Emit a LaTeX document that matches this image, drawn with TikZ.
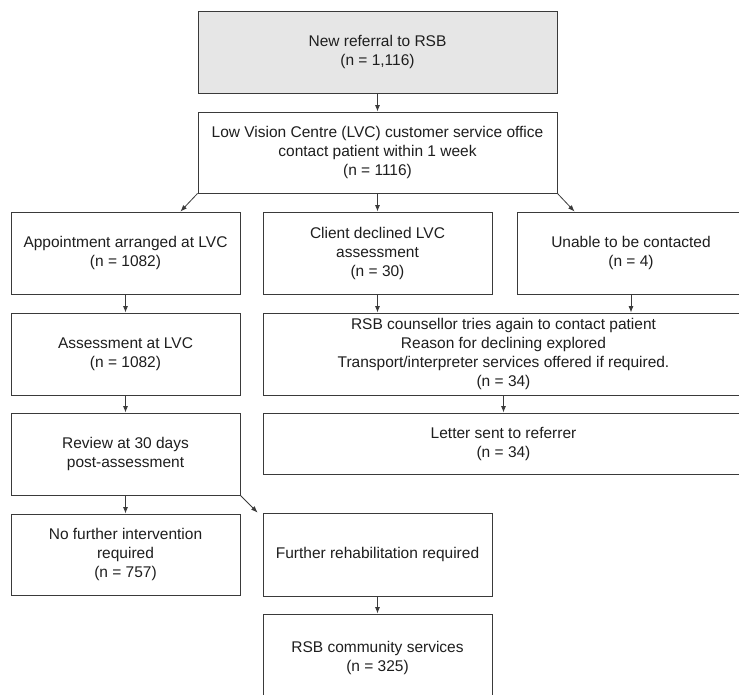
\documentclass[tikz,border=0pt]{standalone}
\usepackage{fontspec}
\setmainfont{Liberation Sans}
\usetikzlibrary{arrows.meta,calc}
\definecolor{edgec}{HTML}{3A3A3A}
\definecolor{textc}{HTML}{1E1E1E}
\definecolor{grayfill}{HTML}{E6E6E6}
\begin{document}
\begin{tikzpicture}[x=1pt,y=1pt,
  box/.style={draw=edgec, line width=0.9pt, fill=white, inner sep=0pt, align=center,
    text=textc, font=\fontsize{15.5}{19}\selectfont},
  arr/.style={draw=edgec, line width=0.8pt, -{Latex[length=6.5pt,width=5pt]}}]
\clip (0,0) rectangle (739,-694);
\fill[white] (0,0) rectangle (739,-694);
% row 1-2
\node[box, fill=grayfill, minimum width=359, minimum height=82] (n1) at (377.5,-52) {New referral to RSB\\(n = 1,116)};
\node[box, minimum width=359, minimum height=81] (n2) at (377.5,-152.5) {Low Vision Centre (LVC) customer service office\\contact patient within 1 week\\(n = 1116)};
% row 3
\node[box, minimum width=229, minimum height=82] (a) at (125.5,-253) {Appointment arranged at LVC\\(n = 1082)};
\node[box, minimum width=229, minimum height=82] (b) at (377.5,-253) {Client declined LVC\\assessment\\(n = 30)};
\node[box, minimum width=228, minimum height=82] (c) at (631,-253) {Unable to be contacted\\(n = 4)};
% row 4
\node[box, minimum width=229, minimum height=82] (a2) at (125.5,-354) {Assessment at LVC\\(n = 1082)};
\node[box, minimum width=481, minimum height=82] (b2) at (503.5,-354) {RSB counsellor tries again to contact patient\\Reason for declining explored\\Transport/interpreter services offered if required.\\(n = 34)};
% row 5
\node[box, minimum width=229, minimum height=82] (rev) at (125.5,-454) {Review at 30 days\\post-assessment};
\node[box, minimum width=481, minimum height=61] (let) at (503.5,-443.5) {Letter sent to referrer\\(n = 34)};
% row 6
\node[box, minimum width=229, minimum height=81] (nf) at (125.5,-554.5) {No further intervention\\required\\(n = 757)};
\node[box, minimum width=229, minimum height=83] (fr) at (377.5,-554.5) {Further rehabilitation required};
% row 7
\node[box, minimum width=229, minimum height=88] (rc) at (377.5,-658) {RSB community services\\(n = 325)};
% connectors
\draw[arr] (n1.south) -- (n2.north);
\draw[arr] (n2.south west) -- ([xshift=-60pt]a.north east);
\draw[arr] (n2.south) -- (b.north);
\draw[arr] (n2.south east) -- ([xshift=58pt]c.north west);
\draw[arr] (a.south) -- (a2.north);
\draw[arr] (b.south) -- (b.south |- b2.north);
\draw[arr] (c.south) -- (c.south |- b2.north);
\draw[arr] (b2.south) -- (let.north);
\draw[arr] (a2.south) -- (rev.north);
\draw[arr] (rev.south) -- (nf.north);
\draw[arr] (rev.south east) -- ([xshift=-5pt]fr.north west);
\draw[arr] (fr.south) -- (rc.north);
\end{tikzpicture}
\end{document}
